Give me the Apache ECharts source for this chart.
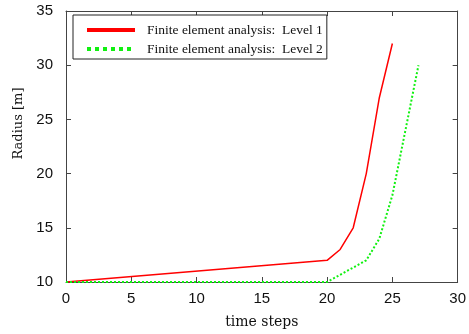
<!DOCTYPE html>
<html><head><meta charset="utf-8">
<script src="https://cdn.jsdelivr.net/npm/echarts@6/dist/echarts.min.js"></script>
<style>html,body{margin:0;padding:0;background:#fff}#c{width:469px;height:334px}</style>
</head><body><div id="c"></div>
<script>
const level1Steps = [0, 20, 21, 22, 23, 24, 25];
const level1Radius = [10, 12, 13, 15, 20, 27, 32];
const level2Steps = [0, 20, 23, 24, 25, 26, 27];
const level2Radius = [10, 10, 12, 14, 18, 24, 30];
const seriesNames = ['Finite element analysis:  Level 1', 'Finite element analysis:  Level 2'];
const xTicks = [0, 5, 10, 15, 20, 25, 30];
const yTicks = [10, 15, 20, 25, 30, 35];

const axisColor = '#444';
const green = '#11f011';
const chart = echarts.init(document.getElementById('c'));
const pair = (xs, ys) => xs.map((x, i) => [x, ys[i]]);
const xBase = {
  type: 'value', min: xTicks[0], max: xTicks[xTicks.length - 1], interval: 5,
  axisLine: { onZero: false, lineStyle: { color: axisColor, width: 1 } },
  axisTick: { inside: true, length: 5, lineStyle: { color: axisColor } },
  splitLine: { show: false }
};
const yBase = {
  type: 'value', min: yTicks[0], max: yTicks[yTicks.length - 1], interval: 5,
  axisLine: { onZero: false, lineStyle: { color: axisColor, width: 1 } },
  axisTick: { inside: true, length: 5, lineStyle: { color: axisColor } },
  splitLine: { show: false }
};
chart.setOption({
  animation: false,
  grid: { left: 66, right: 11, top: 11, bottom: 52 },
  xAxis: [
    Object.assign({}, xBase, {
      position: 'bottom',
      name: 'time steps', nameLocation: 'middle', nameGap: 33,
      nameTextStyle: { fontFamily: 'DejaVu Serif', fontSize: 14, color: '#111' },
      axisLabel: { fontFamily: 'Liberation Sans', fontSize: 15, color: '#111', margin: 9 }
    }),
    Object.assign({}, xBase, { position: 'top', axisLabel: { show: false } })
  ],
  yAxis: [
    Object.assign({}, yBase, {
      position: 'left',
      name: 'Radius [m]', nameLocation: 'middle', nameGap: 35,
      nameTextStyle: { fontFamily: 'DejaVu Serif', fontSize: 13, color: '#111', padding: [0, 0, 0, 46] },
      axisLabel: { fontFamily: 'Liberation Sans', fontSize: 15, color: '#111', margin: 13 }
    }),
    Object.assign({}, yBase, { position: 'right', axisLabel: { show: false } })
  ],
  legend: {
    orient: 'vertical', left: 73, top: 15,
    backgroundColor: '#fff', borderColor: '#222', borderWidth: 1,
    padding: [8, 4, 3, 12], itemGap: 5, itemWidth: 48, itemHeight: 14,
    textStyle: { fontFamily: 'Liberation Serif', fontSize: 13.5, color: '#111', padding: [0, 0, 0, 7] },
    data: [
      { name: seriesNames[0], itemStyle: { opacity: 0 }, lineStyle: { width: 4, color: '#ff0000' } },
      { name: seriesNames[1], itemStyle: { opacity: 0 }, lineStyle: { width: 4, color: green, type: [4, 4] } }
    ]
  },
  series: [
    { name: seriesNames[0], type: 'line', data: pair(level1Steps, level1Radius), showSymbol: false, symbol: 'none',
      lineStyle: { color: '#ff0000', width: 1.5 }, itemStyle: { color: '#ff0000' } },
    { name: seriesNames[1], type: 'line', data: pair(level2Steps, level2Radius), showSymbol: false, symbol: 'none',
      lineStyle: { color: green, width: 2, type: [2, 2] }, itemStyle: { color: green } }
  ]
});
</script></body></html>
